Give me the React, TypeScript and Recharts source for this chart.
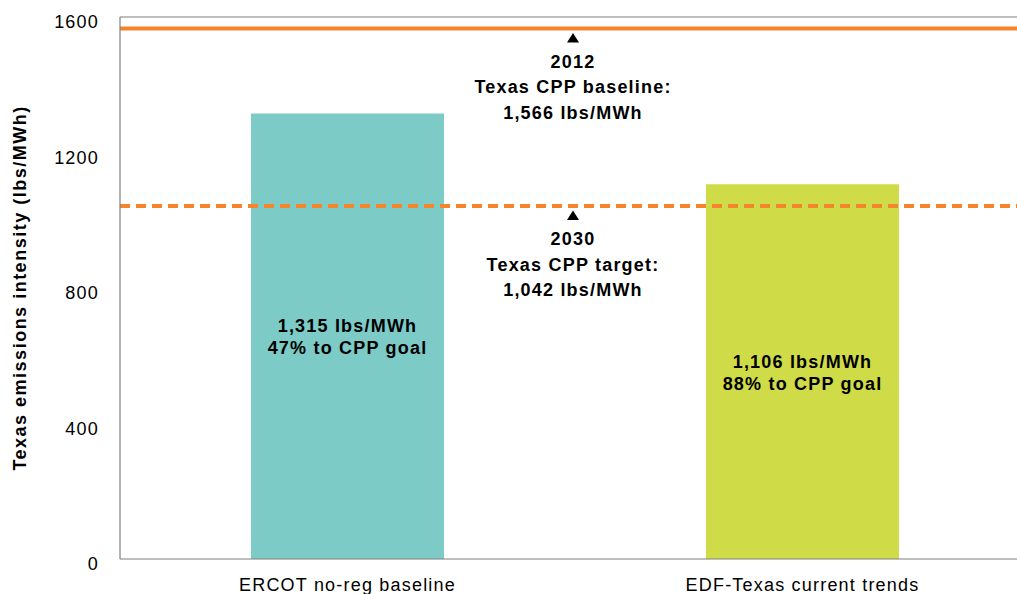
import React from 'react';
import { BarChart, Bar, XAxis, YAxis, Cell, LabelList, ReferenceLine } from 'recharts';

// values
const categories = ['ERCOT no-reg baseline', 'EDF-Texas current trends'];
const intensity = [1315, 1106];
const goalProgress = [47, 88];
const barColors = ['#7ccbc6', '#cfdc48'];
const yTicks = [0, 400, 800, 1200, 1600];
const baseline2012 = 1566;
const target2030 = 1042;
const baselineNote = ['2012', 'Texas CPP baseline:', '1,566 lbs/MWh'];
const targetNote = ['2030', 'Texas CPP target:', '1,042 lbs/MWh'];

const data = categories.map((name, i) => ({
  name,
  value: intensity[i],
  pct: goalProgress[i],
}));

const FONT = '"Liberation Sans", Arial, Helvetica, sans-serif';
const AXIS = '#7f7f7f';
const ORANGE = '#f5842a';

const YTick = (props: any) => {
  const { y, payload } = props;
  return (
    <text x={99} y={y + 11} textAnchor="end" fontFamily={FONT} fontSize={18} letterSpacing={1.2} fill="#000">
      {payload.value}
    </text>
  );
};

const XTick = (props: any) => {
  const { x, payload } = props;
  return (
    <text x={x} y={591} textAnchor="middle" fontFamily={FONT} fontSize={18} letterSpacing={1.2} fill="#000">
      {payload.value}
    </text>
  );
};

const BarText = (props: any) => {
  const { x, y, width, height, index } = props;
  const cx = x + width / 2;
  const cy = y + height / 2;
  const d = data[index];
  return (
    <g fontFamily={FONT} fontSize={18} fontWeight="bold" letterSpacing={1.2} fill="#000" textAnchor="middle">
      <text x={cx} y={cy - 4}>{d.value.toLocaleString('en-US')} lbs/MWh</text>
      <text x={cx} y={cy + 18}>{d.pct}% to CPP goal</text>
    </g>
  );
};

const noteLabel = (lines: string[]) => (props: any) => {
  const vb = props.viewBox || {};
  const cx = vb.x + vb.width / 2 - 2;
  const ly = vb.y;
  return (
    <g>
      <polygon points={`${cx},${ly + 4.5} ${cx - 6},${ly + 14} ${cx + 6},${ly + 14}`} fill="#000" />
      <g fontFamily={FONT} fontSize={18} fontWeight="bold" letterSpacing={1.2} fill="#000" textAnchor="middle">
        {lines.map((t, i) => (
          <text key={i} x={cx} y={ly + 39 + i * 25.5}>{t}</text>
        ))}
      </g>
    </g>
  );
};

const AxisTitle = (props: any) => {
  const vb = props.viewBox || {};
  const cy = vb.y + vb.height / 2;
  return (
    <text
      x={20}
      y={cy}
      transform={`rotate(-90, 20, ${cy})`}
      textAnchor="middle"
      dominantBaseline="central"
      fontFamily={FONT}
      fontSize={18}
      fontWeight="bold"
      letterSpacing={1.5}
      fill="#000"
    >
      Texas emissions intensity (lbs/MWh)
    </text>
  );
};

export default function App() {
  return (
    <div style={{ position: 'fixed', top: 0, left: 0, width: 1017, height: 594, overflow: 'hidden', background: '#fff' }}>
      <BarChart width={1030} height={594} data={data} margin={{ top: 17, right: 0, bottom: 0, left: 0 }}>
        <XAxis
          dataKey="name"
          height={35}
          axisLine={{ stroke: AXIS, strokeWidth: 1.2 }}
          tickLine={false}
          tick={<XTick />}
        />
        <YAxis
          width={120}
          domain={[0, 1600]}
          ticks={yTicks}
          axisLine={{ stroke: AXIS, strokeWidth: 1.2 }}
          tickLine={false}
          tick={<YTick />}
          label={AxisTitle}
        />
        <Bar dataKey="value" barSize={193} isAnimationActive={false}>
          {data.map((d, i) => (
            <Cell key={d.name} fill={barColors[i]} />
          ))}
          <LabelList dataKey="value" content={BarText} />
        </Bar>
        <ReferenceLine y={1600} stroke={AXIS} strokeWidth={1.2} />
        <ReferenceLine y={baseline2012} stroke={ORANGE} strokeWidth={4} label={noteLabel(baselineNote)} />
        <ReferenceLine
          y={target2030}
          stroke={ORANGE}
          strokeWidth={4}
          strokeDasharray="10 6"
          label={noteLabel(targetNote)}
        />
      </BarChart>
    </div>
  );
}
